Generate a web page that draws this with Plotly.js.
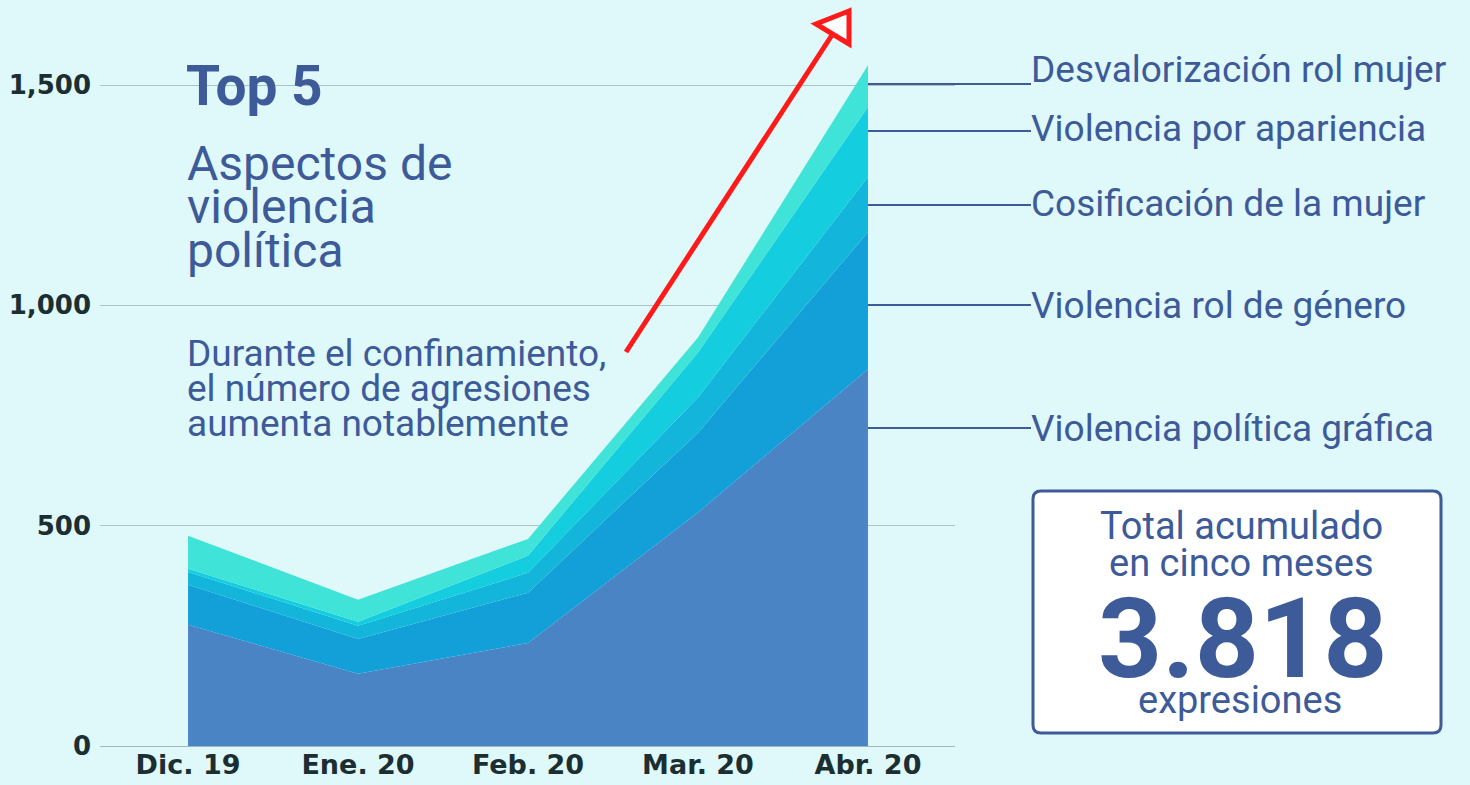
<!DOCTYPE html>
<html>
<head>
<meta charset="utf-8">
<script src="https://cdn.plot.ly/plotly-3.0.1.min.js"></script>
<style>
html,body{margin:0;padding:0;background:#DFF8F9;}
#chart{width:1470px;height:785px;}
</style>
</head>
<body>
<div id="chart"></div>
<script>
const months = ["Dic. 19", "Ene. 20", "Feb. 20", "Mar. 20", "Abr. 20"];
const seriesNames = ["Violencia política gráfica", "Violencia rol de género", "Cosificación de la mujer", "Violencia por apariencia", "Desvalorización rol mujer"];
const graficaValues = [275, 164, 234, 530, 855];
const rolGeneroValues = [91, 79, 114, 181, 311];
const cosificacionValues = [29, 30, 45, 80, 125];
const aparienciaValues = [7, 9, 39, 102, 159];
const desvalorizacionValues = [75, 50, 38, 34, 95];
const yTickValues = [0, 500, 1000, 1500];
const yTickLabels = ["0", "500", "1,000", "1,500"];
const titleLines = ["Aspectos de", "violencia", "política"];
const noteLines = ["Durante el confinamiento,", "el número de agresiones", "aumenta notablemente"];
const boxLines = ["Total acumulado", "en cinco meses"];
const totalText = "3.818";

const colors = ["#4A84C4", "#139FD8", "#13B5DA", "#14CDDF", "#3FE3D8"];
const allValues = [graficaValues, rolGeneroValues, cosificacionValues, aparienciaValues, desvalorizacionValues];

const W = 1470, H = 785;
const M = {l: 100, r: 515, t: 30, b: 39};
const plotW = W - M.l - M.r, plotH = H - M.t - M.b;
const px = x => (x - M.l) / plotW;
const py = y => (H - M.b - y) / plotH;

const traces = allValues.map((vals, i) => ({
  type: "scatter",
  mode: "lines",
  x: months,
  y: vals,
  name: seriesNames[i],
  stackgroup: "one",
  line: {width: 0, color: colors[i]},
  fillcolor: colors[i],
  hoverinfo: "skip"
}));

const blue = "#3D5A99";
const annotations = [];
const shapes = [];
function txt(text, x, y, size, anchor, extra) {
  annotations.push(Object.assign({xref:"paper", yref:"paper", x:px(x), y:py(y), xanchor:anchor, yanchor:"middle",
    showarrow:false, text:text, font:{family:"Roboto", size:size, color:blue}}, extra || {}));
}

// Left text block
txt("<b>Top 5</b>", 184, 86, 55, "left");
titleLines.forEach((t, i) => txt(t, 185, 163 + i * 44, 48, "left"));
noteLines.forEach((t, i) => txt(t, 185, 353 + i * 35, 37, "left"));

// Right labels with lines
const labelLineY = [428, 305, 205, 131, 84];
const labelTextY = [428, 305, 203, 128, 69];
for (let i = 0; i < seriesNames.length; i++) {
  shapes.push({type:"line", xref:"paper", yref:"paper", x0:px(868), x1:px(1031), y0:py(labelLineY[i]), y1:py(labelLineY[i]),
    line:{color:blue, width:2}});
  txt(seriesNames[i], 1029, labelTextY[i], 37, "left");
}

// Total box (rounded rectangle)
const bx0 = 1033, bx1 = 1441, by0 = 491, by1 = 733, rr = 8;
const boxPath = `M ${px(bx0 + rr)} ${py(by0)} L ${px(bx1 - rr)} ${py(by0)} Q ${px(bx1)} ${py(by0)} ${px(bx1)} ${py(by0 + rr)} ` +
  `L ${px(bx1)} ${py(by1 - rr)} Q ${px(bx1)} ${py(by1)} ${px(bx1 - rr)} ${py(by1)} ` +
  `L ${px(bx0 + rr)} ${py(by1)} Q ${px(bx0)} ${py(by1)} ${px(bx0)} ${py(by1 - rr)} ` +
  `L ${px(bx0)} ${py(by0 + rr)} Q ${px(bx0)} ${py(by0)} ${px(bx0 + rr)} ${py(by0)} Z`;
shapes.push({type:"path", xref:"paper", yref:"paper", path:boxPath, fillcolor:"#FFFFFF", line:{color:blue, width:3}, layer:"above"});
boxLines.forEach((t, i) => txt(t, 1241, 526 + i * 37, 38, "center"));
txt("<b>" + totalText + "</b>", 1243, 638, 112, "center");
txt("expresiones", 1240, 700, 38, "center");

// Red arrow
shapes.push({type:"line", xref:"paper", yref:"paper", x0:px(626), y0:py(352), x1:px(832), y1:py(35),
  line:{color:"#FF1A1A", width:5}});
shapes.push({type:"path", xref:"paper", yref:"paper",
  path:`M ${px(849)} ${py(11)} L ${px(816)} ${py(24)} L ${px(849)} ${py(44)} Z`,
  fillcolor:"#FFFFFF", line:{color:"#FF1A1A", width:5}});

const layout = {
  width: W, height: H,
  margin: M,
  paper_bgcolor: "#DFF8F9",
  plot_bgcolor: "#DFF8F9",
  showlegend: false,
  xaxis: {
    type: "category",
    range: [-0.518, 4.512],
    showgrid: false, zeroline: false, showline: false,
    ticks: "", ticklen: 0,
    tickfont: {family: "DejaVu Sans", size: 27, color: "#1B2F33", weight: "bold"}
  },
  yaxis: {
    range: [0, plotH / ((746 - 85) / 1500)],
    tickvals: yTickValues,
    ticktext: yTickLabels,
    showgrid: true, gridcolor: "#A9C4C8", gridwidth: 1,
    zeroline: true, zerolinecolor: "#9FB8BC", zerolinewidth: 1,
    showline: false, ticks: "", ticklabelstandoff: 8,
    tickfont: {family: "DejaVu Sans", size: 26, color: "#1B2F33", weight: "bold"}
  },
  annotations: annotations,
  shapes: shapes,
  hovermode: false
};

Plotly.newPlot("chart", traces, layout, {displayModeBar: false, staticPlot: true});
</script>
</body>
</html>
